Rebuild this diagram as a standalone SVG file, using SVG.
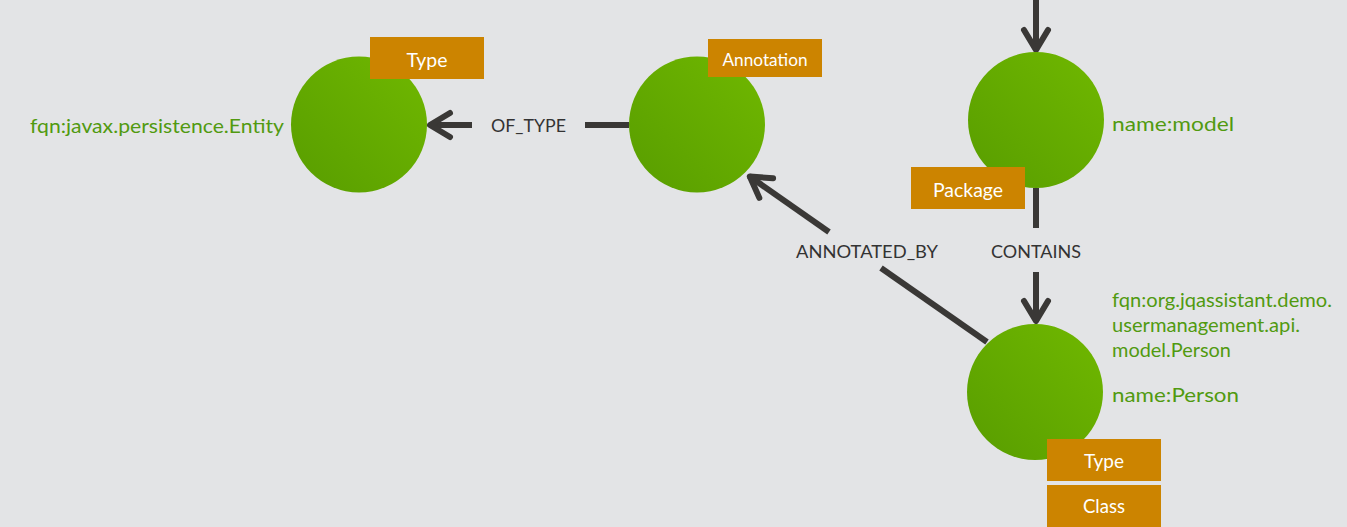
<svg xmlns="http://www.w3.org/2000/svg" width="1347" height="527" viewBox="0 0 1347 527">
<style>
.edge{stroke:#3a3836;stroke-width:6;fill:none}
.elabel{font-family:Lato,"Open Sans","Liberation Sans",sans-serif;font-size:16.5px;fill:#333333;text-anchor:middle}
.node{fill:url(#g)}
.lbox{fill:#cc8400}
.ltext{font-family:Lato,"Open Sans","Liberation Sans",sans-serif;fill:#ffffff;text-anchor:middle}
.prop{font-family:Lato,"Open Sans","Liberation Sans",sans-serif;fill:#519a10;font-size:19px}
</style>
<defs>
<linearGradient id="g" x1="0" y1="1" x2="1" y2="0">
<stop offset="0" stop-color="#589d00"/>
<stop offset="1" stop-color="#70b800"/>
</linearGradient>
<marker id="arr" markerUnits="userSpaceOnUse" orient="auto" refX="1" refY="0" overflow="visible" markerWidth="30" markerHeight="30">
<path d="M-20,-12 L0,0 L-20,12" fill="none" stroke="#3a3836" stroke-width="6" stroke-linecap="round" stroke-linejoin="round"/>
</marker>
</defs>
<rect x="0" y="0" width="1347" height="527" fill="#e3e4e6"/>
<g id="connectors">
<line class="edge" x1="1036" y1="0" x2="1036" y2="51" marker-end="url(#arr)"/>
<line class="edge" x1="629" y1="125" x2="585" y2="125"/>
<line class="edge" x1="472" y1="125" x2="429" y2="125" marker-end="url(#arr)"/>
<text class="elabel" x="528.5" y="132" textLength="75" lengthAdjust="spacingAndGlyphs">OF_TYPE</text>
<line class="edge" x1="1036" y1="188" x2="1036" y2="228"/>
<line class="edge" x1="1036" y1="272" x2="1036" y2="322" marker-end="url(#arr)"/>
<text class="elabel" x="1036" y="258" textLength="90" lengthAdjust="spacingAndGlyphs">CONTAINS</text>
<line class="edge" x1="987" y1="342" x2="881" y2="268"/>
<line class="edge" x1="829" y1="232" x2="749" y2="176" marker-end="url(#arr)"/>
<text class="elabel" x="867" y="258" textLength="142" lengthAdjust="spacingAndGlyphs">ANNOTATED_BY</text>
</g>
<g id="node-entity">
<circle class="node" cx="359" cy="124.5" r="68"/>
<rect class="lbox" x="370" y="37" width="114" height="42"/>
<text class="ltext" x="427" y="67" font-size="19.5" textLength="41" lengthAdjust="spacingAndGlyphs">Type</text>
<text class="prop" x="30" y="133" textLength="254" lengthAdjust="spacingAndGlyphs">fqn:javax.persistence.Entity</text>
</g>
<g id="node-annotation">
<circle class="node" cx="697" cy="124.5" r="68"/>
<rect class="lbox" x="708" y="39" width="114" height="38"/>
<text class="ltext" x="765" y="66" font-size="16.5" textLength="85" lengthAdjust="spacingAndGlyphs">Annotation</text>
</g>
<g id="node-package">
<circle class="node" cx="1036" cy="120" r="68"/>
<rect class="lbox" x="911" y="167" width="114" height="42"/>
<text class="ltext" x="968" y="197" font-size="19.5" textLength="70" lengthAdjust="spacingAndGlyphs">Package</text>
<text class="prop" x="1112" y="131" textLength="122" lengthAdjust="spacingAndGlyphs">name:model</text>
</g>
<g id="node-person">
<circle class="node" cx="1035" cy="392" r="68"/>
<rect class="lbox" x="1047" y="439" width="114" height="42"/>
<text class="ltext" x="1104" y="468" font-size="19.5" textLength="40" lengthAdjust="spacingAndGlyphs">Type</text>
<rect class="lbox" x="1047" y="485" width="114" height="44"/>
<text class="ltext" x="1104" y="513" font-size="19.5" textLength="42" lengthAdjust="spacingAndGlyphs">Class</text>
<text class="prop" x="1112" y="307" textLength="220" lengthAdjust="spacingAndGlyphs">fqn:org.jqassistant.demo.</text>
<text class="prop" x="1112" y="332" textLength="188" lengthAdjust="spacingAndGlyphs">usermanagement.api.</text>
<text class="prop" x="1112" y="357" textLength="119" lengthAdjust="spacingAndGlyphs">model.Person</text>
<text class="prop" x="1112" y="402" font-size="20.5" textLength="127" lengthAdjust="spacingAndGlyphs">name:Person</text>
</g>
</svg>
